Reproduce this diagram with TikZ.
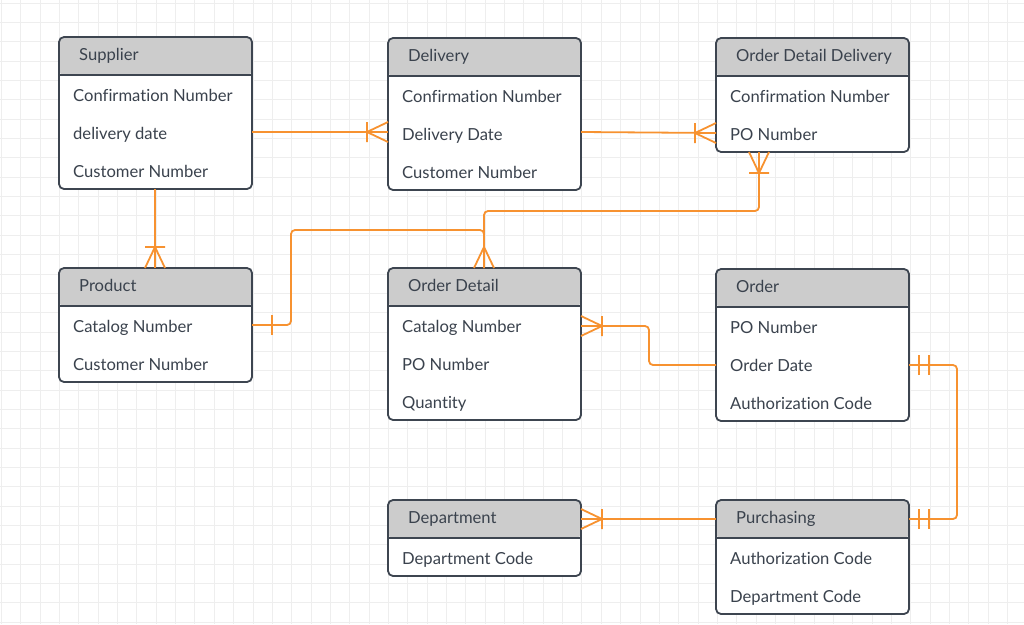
\documentclass[tikz,border=0pt]{standalone}
\usepackage{fontspec}
\setmainfont{Lato}[Ligatures={NoCommon}]
\usetikzlibrary{calc}
\definecolor{bordercol}{HTML}{3D4550}
\definecolor{hdrcol}{HTML}{CCCCCC}
\definecolor{txtcol}{HTML}{3A424D}
\definecolor{conncol}{HTML}{F79230}
\definecolor{gridminor}{HTML}{EEEEEE}
\tikzset{
  x=1pt, y=-1pt,
  ebox/.style={draw=bordercol, line width=1.8pt, rounded corners=5pt, fill=white,
    minimum width=193pt, inner sep=0pt, outer sep=0pt,
    path picture={\fill[hdrcol] (path picture bounding box.north west) rectangle ([yshift=-38pt]path picture bounding box.north east);}},
  etitle/.style={text=txtcol, font=\fontsize{16.6}{18}\selectfont, inner sep=0pt, anchor=mid west},
  erow/.style={text=txtcol, font=\fontsize{16.6}{18}\selectfont, inner sep=0pt, anchor=mid west},
  conn/.style={draw=conncol, line width=1.8pt, rounded corners=4pt},
  tip/.style={draw=conncol, line width=1.8pt},
  pics/manybar/.style={code={
    \draw[tip] (-21,0) -- (0,10) (-21,0) -- (0,-10) (-21,-10) -- (-21,10);}},
  pics/many/.style={code={
    \draw[tip] (-21,0) -- (0,10) (-21,0) -- (0,-10);}},
  pics/onebar/.style={code={
    \draw[tip] (-20,-10) -- (-20,10);}},
  pics/twobar/.style={code={
    \draw[tip] (-10,-10) -- (-10,10) (-20,-10) -- (-20,10);}},
}
\newcommand\erentity[6]{%
  \node[ebox, minimum height={38+38*#4}, anchor=north west] (#1) at (#2,#3) {};
  \draw[draw=bordercol, line width=1.8pt] ([yshift=-38pt]#1.north west) -- ([yshift=-38pt]#1.north east);
  \node[etitle] (#1-t) at ($(#1.north west)+(20,21)$) {#5};
  \foreach \r [count=\i] in {#6} {\node[erow] (#1-\i) at ($(#1.north west)+(14,{23.5+38*\i})$) {\r};}
}
\begin{document}
\begin{tikzpicture}
\useasboundingbox (0,0) rectangle (1024,624);
\fill[white] (0,0) rectangle (1024,624);
% grid
\foreach \i in {0,...,53} {\draw[gridminor, line width=0.8pt] ({1.35+19.35*\i},0) -- ({1.35+19.35*\i},624);}
\foreach \i in {0,...,32} {\draw[gridminor, line width=0.8pt] (0,{3+19.35*\i}) -- (1024,{3+19.35*\i});}
% entities
\erentity{sup}{59}{37}{3}{Supplier}{Confirmation Number,delivery date,Customer Number}
\erentity{del}{388}{38}{3}{Delivery}{Confirmation Number,Delivery Date,Customer Number}
\erentity{odd}{716}{38}{2}{Order Detail Delivery}{Confirmation Number,PO Number}
\erentity{prod}{59}{268}{2}{Product}{Catalog Number,Customer Number}
\erentity{od}{388}{268}{3}{Order Detail}{Catalog Number,PO Number,Quantity}
\erentity{ord}{716}{269}{3}{Order}{PO Number,Order Date,Authorization Code}
\erentity{dep}{388}{500}{1}{Department}{Department Code}
\erentity{pur}{716}{500}{2}{Purchasing}{Authorization Code,Department Code}
% connectors
\coordinate (odtop) at ([xshift=96pt]od.north west);
\coordinate (oddbot) at ([xshift=43pt]odd.south west);
\coordinate (supbot) at ([xshift=96pt]sup.south west);
\coordinate (prodtop) at ([xshift=96pt]prod.north west);
\coordinate (supr) at ($(sup.north east)+(0,95)$);
\coordinate (dell) at ($(del.north west)+(0,94)$);
\coordinate (delr) at ($(del.north east)+(0,94)$);
\coordinate (oddl) at ($(odd.north west)+(0,95)$);
\coordinate (prodr) at ($(prod.north east)+(0,57)$);
\coordinate (odr) at ($(od.north east)+(0,58)$);
\coordinate (ordl) at ($(ord.north west)+(0,96)$);
\coordinate (ordr) at ($(ord.north east)+(0,96)$);
\coordinate (purr) at ($(pur.north east)+(0,19)$);
\coordinate (purl) at ($(pur.north west)+(0,19)$);
\coordinate (depr) at ($(dep.north east)+(0,19)$);
\draw[conn] (supr) -- (dell);
\pic at (dell) {manybar};
\draw[conn] (delr) -- (oddl);
\pic at (oddl) {manybar};
\draw[conn] (oddbot) -- ++(0,59) -| (odtop);
\pic[rotate=90] at (oddbot) {manybar};
\draw[conn] (prodr) -| ++(39,-95) -| (odtop);
\pic[rotate=180] at (prodr) {onebar};
\pic[rotate=-90] at (odtop) {many};
\draw[conn] (ordl) -| ($(odr)+(68,0)$) -- (odr);
\pic[rotate=180] at (odr) {manybar};
\draw[conn] (ordr) -- ++(48,0) |- (purr);
\pic[rotate=180] at (ordr) {twobar};
\pic[rotate=180] at (purr) {twobar};
\draw[conn] (purl) -- (depr);
\pic[rotate=180] at (depr) {manybar};
\draw[conn] (supbot) -- (prodtop);
\pic[rotate=-90] at (prodtop) {manybar};
\end{tikzpicture}
\end{document}
